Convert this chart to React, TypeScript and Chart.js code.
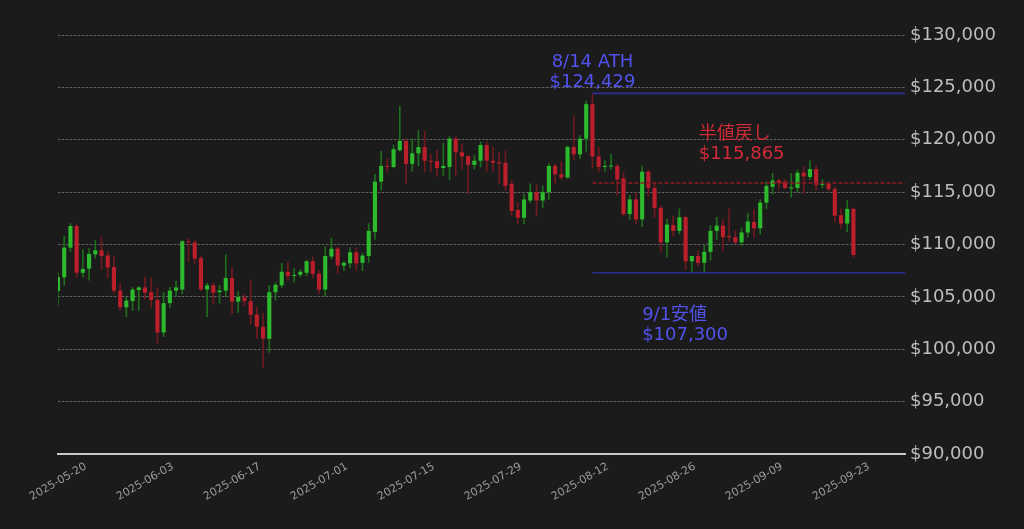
import React, { useEffect, useRef } from "react";
import { Chart, registerables } from "chart.js";

Chart.register(...registerables);

// Daily BTC candles, one per day from 2025-05-20 (index 0) to 2025-09-25 (index 128)
const opens = [
  105560, 106870, 109700, 111770, 107300, 107700, 109050, 109450, 108950, 107850,
  105600, 104000, 104600, 105650, 105900, 105450, 104700, 101600, 104400, 105600,
  105700, 110300, 110200, 108700, 105700, 106100, 105450, 105600, 106800, 104550,
  104950, 104600, 103300, 102150, 101000, 105450, 106100, 107400, 107000, 107100,
  107300, 108400, 107200, 105700, 108850, 109600, 107980, 108200, 109250, 108250,
  108900, 111200, 116000, 117500, 117400, 119000, 119900, 117700, 118700, 119300,
  118000, 117950, 117300, 117400, 120100, 118800, 118450, 117600, 118000, 119500,
  118000, 117850, 117800, 115800, 113300, 112550, 114200, 115000, 114200, 115000,
  117500, 116700, 116400, 119300, 118600, 120100, 123400, 118400, 117400, 117450,
  117500, 116300, 112900, 114300, 112400, 116950, 115400, 113500, 110200, 111850,
  111300, 112600, 108400, 108900, 108250, 109300, 111300, 111800, 110800, 110700,
  110200, 111150, 112150, 111550, 114000, 115500, 116100, 116000, 115350, 115400,
  116850, 116450, 117200, 115700, 115800, 115300, 112800, 112000, 113400,
];
const highs = [
  107300, 110800, 112000, 111950, 109500, 109600, 110400, 110700, 109300, 108900,
  106300, 105000, 105900, 106000, 106900, 106800, 105900, 105400, 105900, 106500,
  110400, 110600, 110400, 108900, 106300, 106300, 106100, 109000, 107800, 105500,
  105300, 106600, 104000, 103400, 106100, 106350, 108200, 108300, 107700, 107600,
  108500, 108800, 107500, 109800, 110600, 109750, 108400, 109700, 109700, 109200,
  112000, 116700, 118900, 118200, 119500, 123200, 120100, 120100, 120900, 120800,
  118600, 119000, 119700, 120300, 120300, 119600, 118500, 118500, 119800, 119800,
  119300, 118800, 118900, 116100, 114000, 114800, 115800, 115700, 115600, 117700,
  117700, 117900, 119400, 122300, 120400, 123700, 124429, 119300, 118000, 118600,
  117700, 116900, 114700, 114900, 117500, 117100, 115900, 113700, 112400, 112700,
  113400, 112700, 108900, 109400, 109900, 111800, 112600, 112400, 113400, 111300,
  111600, 113000, 113300, 114300, 116000, 116800, 116300, 116200, 116800, 117100,
  117400, 118000, 117500, 116200, 115900, 115500, 113400, 114200, 113500,
];
const lows = [
  104200, 106100, 109300, 106870, 106900, 106600, 108700, 107600, 106800, 105300,
  103700, 103100, 103700, 103700, 104800, 104000, 100600, 101200, 104000, 105000,
  105300, 108400, 108100, 105600, 103100, 104300, 104400, 105000, 103400, 103500,
  104100, 102400, 101000, 98300, 99700, 104700, 105900, 106600, 106400, 106900,
  107000, 106800, 105300, 105100, 108600, 107300, 107500, 107800, 107500, 107500,
  108300, 110500, 115200, 116900, 117300, 118900, 115800, 117000, 117500, 116900,
  116900, 116500, 116600, 116200, 116600, 117200, 114800, 117200, 117400, 117000,
  117000, 115800, 115200, 112700, 112000, 112000, 114000, 112700, 113500, 114300,
  115800, 116200, 116300, 118100, 118200, 118900, 117300, 116900, 117000, 117200,
  114700, 112700, 112400, 112000, 111700, 114600, 112600, 109300, 108800, 110800,
  111000, 107600, 107400, 107900, 107300, 108500, 110500, 109400, 110300, 110100,
  109900, 110700, 110700, 111000, 113400, 114800, 115300, 115300, 114500, 115000,
  114900, 116200, 115200, 115400, 115100, 112200, 111500, 111200, 108800,
];
const closes = [
  106900, 109700, 111770, 107300, 107660, 109100, 109450, 108900, 107800, 105600,
  104000, 104650, 105700, 105900, 105400, 104700, 101600, 104400, 105600, 105900,
  110300, 110200, 108650, 105700, 106100, 105400, 105600, 106800, 104550, 105000,
  104600, 103300, 102150, 101000, 105450, 106150, 107400, 107000, 107100, 107400,
  108400, 107200, 105700, 108900, 109600, 108000, 108250, 109250, 108200, 108950,
  111300, 116000, 117500, 117400, 119100, 119900, 117700, 118700, 119300, 118000,
  117900, 117300, 117500, 120100, 118800, 118400, 117600, 118000, 119500, 118000,
  117800, 117750, 115600, 113200, 112550, 114300, 115000, 114200, 115000, 117500,
  116700, 116400, 119300, 118600, 120100, 123400, 118400, 117400, 117500, 117500,
  116200, 112900, 114300, 112400, 116950, 115400, 113500, 110200, 111900, 111300,
  112600, 108400, 108900, 108250, 109300, 111300, 111800, 110700, 110700, 110200,
  111150, 112200, 111550, 114000, 115600, 116100, 115900, 115400, 115450, 116850,
  116500, 117200, 115700, 115800, 115300, 112750, 112000, 113400, 109000,
];

const tickIndex = [0, 14, 28, 42, 56, 70, 84, 98, 112, 126];
const tickLabels = [
  "2025-05-20", "2025-06-03", "2025-06-17", "2025-07-01", "2025-07-15",
  "2025-07-29", "2025-08-12", "2025-08-26", "2025-09-09", "2025-09-23",
];

// Reference levels: ATH, half retracement, 9/1 low (drawn from 8/14 = index 86)
const levelValues = [124429, 115865, 107300];
const levelStartIndex = 86;
const xMaxIndex = 136.3;

const annotationTexts = [
  ["8/14 ATH", "$124,429"],
  ["半値戻し", "$115,865"],
  ["9/1安値", "$107,300"],
];

const FONT = '"DejaVu Sans", "Noto Sans CJK JP", sans-serif';
const BG = "#1b1b1b";
const UP = "#2dbb2d";
const DOWN = "#bb1f2b";
const UP_WICK = "#1d6e1d";
const DOWN_WICK = "#701a20";
const BLUE_TEXT = "#5252ee";
const RED_TEXT = "#d02a38";
const TEXT_SIZE = 18;
const LINE_GAP = 20;

const annotationLayout = [
  { x: 86, align: "center", dy: -6.7, color: BLUE_TEXT },
  { x: 103.1, align: "left", dy: -24.5, color: RED_TEXT },
  { x: 94.0, align: "left", dy: 67.2, color: BLUE_TEXT },
];

const bgPlugin = {
  id: "bgFill",
  beforeDraw(chart: any) {
    const ctx = chart.ctx;
    ctx.save();
    ctx.fillStyle = BG;
    ctx.fillRect(0, 0, chart.width, chart.height);
    ctx.restore();
  },
};

const textPlugin = {
  id: "levelTexts",
  afterDatasetsDraw(chart: any) {
    const ctx = chart.ctx;
    const xs = chart.scales.x;
    const ys = chart.scales.y;
    ctx.save();
    ctx.font = `${TEXT_SIZE}px ${FONT}`;
    ctx.textBaseline = "alphabetic";
    annotationTexts.forEach((lines, i) => {
      const lay = annotationLayout[i];
      const px = xs.getPixelForValue(lay.x);
      const py = ys.getPixelForValue(levelValues[i]) + lay.dy;
      ctx.fillStyle = lay.color;
      ctx.textAlign = lay.align;
      ctx.fillText(lines[0], px, py - LINE_GAP);
      ctx.fillText(lines[1], px, py);
    });
    ctx.restore();
  },
};

export default function App() {
  const ref = useRef<HTMLCanvasElement | null>(null);

  useEffect(() => {
    document.body.style.margin = "0";
    document.body.style.background = BG;
    const canvas = ref.current;
    if (!canvas) return;

    const bodies = opens.map((o, i) => ({ x: i, y: [o, closes[i]] }));
    const wicks = opens.map((o, i) => ({ x: i, y: [lows[i], highs[i]] }));
    const bodyColors = opens.map((o, i) => (closes[i] >= o ? UP : DOWN));
    const wickColors = opens.map((o, i) => (closes[i] >= o ? UP_WICK : DOWN_WICK));

    const lineColors = ["#2c2c96", "#8e1c24", "#2c2c96"];
    const levelDatasets = levelValues.map((v, i) => ({
      type: "line" as const,
      data: [
        { x: levelStartIndex, y: v },
        { x: xMaxIndex, y: v },
      ],
      borderColor: lineColors[i],
      borderWidth: 1.6,
      borderDash: i === 1 ? [4, 2] : [],
      pointRadius: 0,
      order: 0,
    }));

    const chart = new Chart(canvas, {
      type: "bar",
      data: {
        datasets: [
          {
            data: bodies as any,
            backgroundColor: bodyColors,
            grouped: false,
            barPercentage: 1,
            categoryPercentage: 0.66,
            minBarLength: 1,
            order: 1,
          },
          {
            data: wicks as any,
            backgroundColor: wickColors,
            grouped: false,
            barThickness: 1,
            order: 2,
          },
          ...levelDatasets,
        ] as any,
      },
      options: {
        animation: false,
        responsive: false,
        maintainAspectRatio: false,
        layout: { padding: { left: 58, top: 35, right: 0, bottom: 0 } },
        plugins: {
          legend: { display: false },
          tooltip: { enabled: false },
        },
        scales: {
          x: {
            type: "linear",
            min: 0,
            max: xMaxIndex,
            offset: false,
            grid: { display: false, drawTicks: false },
            border: { display: true, color: "#c8c8c8", width: 2 },
            afterBuildTicks: (scale: any) => {
              scale.ticks = tickIndex.map((v) => ({ value: v }));
            },
            afterFit: (scale: any) => {
              scale.height = 529 - 454;
              scale.paddingLeft = 0;
              scale.paddingRight = 0;
            },
            ticks: {
              autoSkip: false,
              minRotation: 30,
              maxRotation: 30,
              labelOffset: 28,
              padding: 6,
              color: "#9a9a9a",
              font: { family: FONT, size: 11 },
              callback: (v: any) => {
                const k = tickIndex.indexOf(Number(v));
                return k >= 0 ? tickLabels[k] : "";
              },
            },
          },
          y: {
            type: "linear",
            position: "right",
            min: 90000,
            max: 130000,
            grid: {
              display: true,
              color: "#7a7a7a",
              lineWidth: 0.8,
              drawTicks: false,
            },
            border: { display: false, dash: [2.5, 1.5] },
            afterFit: (scale: any) => {
              scale.width = 1024 - 905;
              scale.paddingTop = 0;
              scale.paddingBottom = 0;
            },
            ticks: {
              stepSize: 5000,
              padding: 5,
              color: "#bdbdbd",
              font: { family: FONT, size: TEXT_SIZE },
              callback: (v: any) => "$" + Number(v).toLocaleString("en-US"),
            },
          },
        },
      },
      plugins: [bgPlugin, textPlugin],
    });

    return () => chart.destroy();
  }, []);

  return (
    <div style={{ width: 1024, height: 529, background: BG }}>
      <canvas ref={ref} width={1024} height={529} style={{ display: "block" }} />
    </div>
  );
}
